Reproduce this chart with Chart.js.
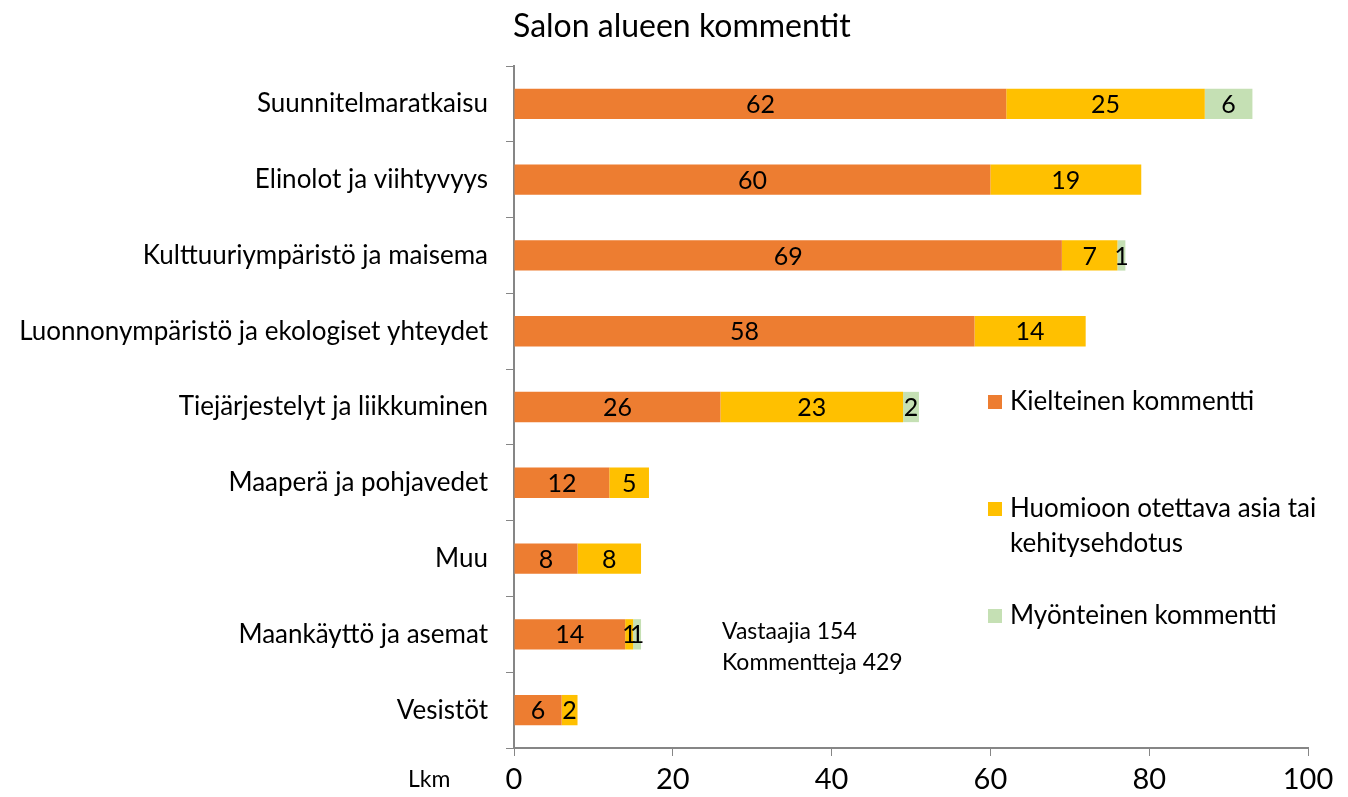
<!DOCTYPE html>
<html>
<head>
<meta charset="utf-8">
<script src="https://cdn.jsdelivr.net/npm/chart.js@4"></script>
<style>
  html, body { margin: 0; padding: 0; background: #fff; }
  #wrap { position: relative; width: 1348px; height: 797px; font-family: Lato, "Open Sans", sans-serif; color: #000; }
  canvas { position: absolute; left: 0; top: 0; }
  .txt { position: absolute; white-space: nowrap; }
  .sw { position: absolute; width: 14px; height: 14px; }
</style>
</head>
<body>
<div id="wrap">
  <canvas id="chart" width="1348" height="797"></canvas>
  <div class="txt" style="left:513px; top:5px; font-size:32px; line-height:40px;">Salon alueen kommentit</div>
  <div class="sw" style="left:988px; top:395px; background:#ED7D31"></div>
  <div class="txt" style="left:1010px; top:383px; font-size:26px; line-height:35px;">Kielteinen kommentti</div>
  <div class="sw" style="left:988px; top:502px; background:#FFC000"></div>
  <div class="txt" style="left:1010px; top:490px; font-size:26px; line-height:35px;">Huomioon otettava asia tai<br>kehitysehdotus</div>
  <div class="sw" style="left:988px; top:609px; background:#C5E0B4"></div>
  <div class="txt" style="left:1010px; top:597px; font-size:26px; line-height:35px;">Myönteinen kommentti</div>
  <div class="txt" style="left:722px; top:615px; font-size:23px; line-height:31px;">Vastaajia 154<br>Kommentteja 429</div>
  <div class="txt" style="left:408px; top:763px; font-size:23px; line-height:30px;">Lkm</div>
</div>
<script>
// categories and series
var categories = [
    "Suunnitelmaratkaisu",
    "Elinolot ja viihtyvyys",
    "Kulttuuriympäristö ja maisema",
    "Luonnonympäristö ja ekologiset yhteydet",
    "Tiejärjestelyt ja liikkuminen",
    "Maaperä ja pohjavedet",
    "Muu",
    "Maankäyttö ja asemat",
    "Vesistöt"
];
var kielteinen = [62, 60, 69, 58, 26, 12, 8, 14, 6];
var huomioon   = [25, 19, 7, 14, 23, 5, 8, 1, 2];
var myonteinen = [6, 0, 1, 0, 2, 0, 0, 1, 0];
var xTicks     = [0, 20, 40, 60, 80, 100];

var FONT = "Lato, 'Open Sans', sans-serif";

// draw the value in the middle of every bar segment
var barLabels = {
    id: 'barLabels',
    afterDatasetsDraw: function(chart) {
        var ctx = chart.ctx;
        ctx.save();
        ctx.font = "25px " + FONT;
        ctx.fillStyle = "#000";
        ctx.textAlign = "center";
        ctx.textBaseline = "middle";
        chart.data.datasets.forEach(function(ds, i) {
            var meta = chart.getDatasetMeta(i);
            meta.data.forEach(function(bar, j) {
                var v = ds.data[j];
                if (!v) return;
                var cx = (bar.x + bar.base) / 2;
                ctx.fillText(String(v), cx, bar.y + 1);
            });
        });
        ctx.restore();
    }
};

var ctx = document.getElementById("chart");
new Chart(ctx, {
    type: "bar",
    data: {
        labels: categories,
        datasets: [
            { label: "Kielteinen kommentti", data: kielteinen, backgroundColor: "#ED7D31" },
            { label: "Huomioon otettava asia tai kehitysehdotus", data: huomioon, backgroundColor: "#FFC000" },
            { label: "Myönteinen kommentti", data: myonteinen, backgroundColor: "#C5E0B4" }
        ]
    },
    options: {
        indexAxis: "y",
        responsive: false,
        animation: false,
        layout: { padding: { top: 66, right: 40, bottom: 0, left: 0 } },
        datasets: { bar: { barPercentage: 0.4, categoryPercentage: 1.0, borderWidth: 0 } },
        plugins: {
            legend: { display: false },
            title: { display: false },
            tooltip: { enabled: false }
        },
        scales: {
            x: {
                stacked: true,
                min: 0,
                max: 100,
                afterBuildTicks: function(scale) {
                    scale.ticks = xTicks.map(function(v) { return { value: v }; });
                },
                afterFit: function(scale) { scale.height = 49; },
                border: { color: "#868686", width: 2 },
                grid: { drawOnChartArea: false, tickLength: 8, color: "#868686", lineWidth: 1 },
                ticks: { color: "#000", padding: 6, font: { family: FONT, size: 29 }, maxRotation: 0 }
            },
            y: {
                stacked: true,
                afterFit: function(scale) { scale.width = 514; },
                border: { color: "#868686", width: 2 },
                grid: { drawOnChartArea: false, offset: true, tickLength: 8, color: "#868686", lineWidth: 1 },
                ticks: { color: "#000", padding: 18, font: { family: FONT, size: 26 } }
            }
        }
    },
    plugins: [barLabels]
});
</script>
</body>
</html>
